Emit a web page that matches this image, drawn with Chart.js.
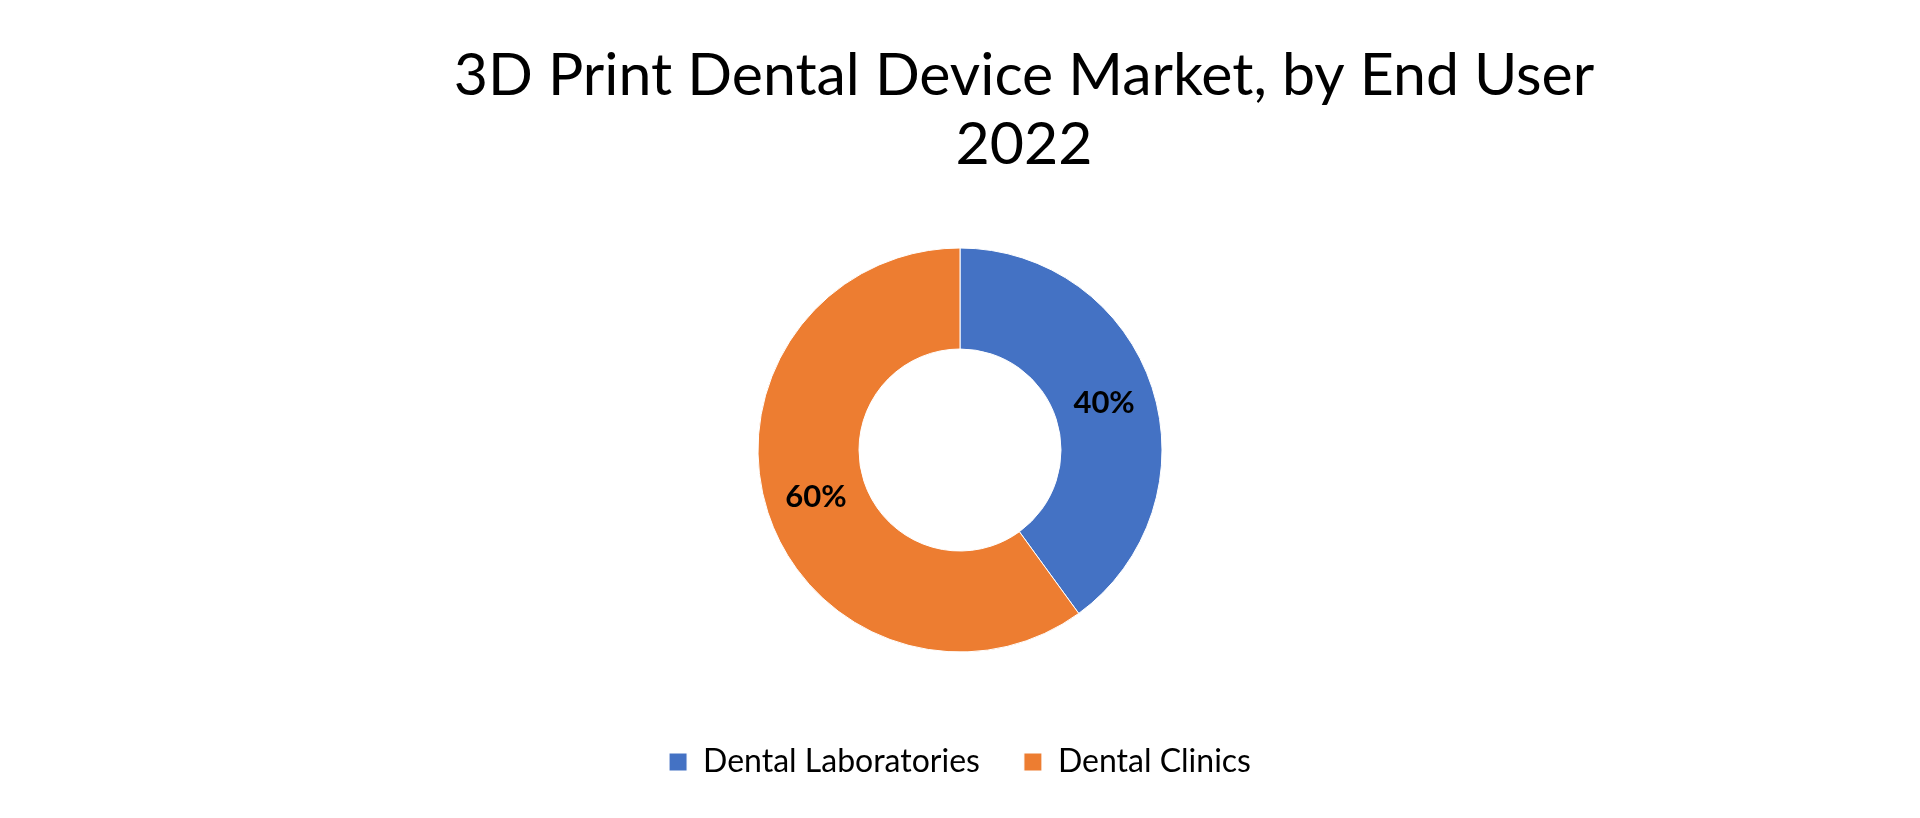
<!DOCTYPE html>
<html>
<head>
<meta charset="utf-8">
<script src="https://cdn.jsdelivr.net/npm/chart.js@4/dist/chart.umd.min.js"></script>
<style>
  html, body { margin: 0; padding: 0; background: #fff; }
  #wrap { width: 1920px; height: 818px; }
</style>
</head>
<body>
<div id="wrap"><canvas id="chartEndUser"></canvas></div>
<script>
// ----- DATA -----
const titleLines = ["3D Print Dental Device Market, by End User", "2022"];
const categories = ["Dental Laboratories", "Dental Clinics"];
const shares = [40, 60];
const colors = ["#4472C4", "#ED7D31"];

// ----- TITLE (sits a bit right of centre in the original) -----
const offsetTitle = {
    id: "offsetTitle",
    afterDraw(chart) {
        const ctx = chart.ctx;
        ctx.save();
        ctx.font = "59px Lato, 'Open Sans', sans-serif";
        ctx.fillStyle = "#000";
        ctx.textAlign = "center";
        ctx.textBaseline = "middle";
        const cx = chart.width / 2 + 64;
        titleLines.forEach((line, i) => ctx.fillText(line, cx, 76 + i * 69));
        ctx.restore();
    }
};

// ----- PERCENT LABELS -----
const sliceLabels = {
    id: "sliceLabels",
    afterDatasetsDraw(chart) {
        const ctx = chart.ctx;
        const meta = chart.getDatasetMeta(0);
        ctx.save();
        ctx.font = "bold 31px Lato, 'Open Sans', sans-serif";
        ctx.fillStyle = "#000";
        ctx.textAlign = "center";
        ctx.textBaseline = "middle";
        meta.data.forEach((arc, i) => {
            const p = arc.tooltipPosition();
            ctx.fillText(shares[i] + "%", p.x, p.y);
        });
        ctx.restore();
    }
};

// ----- CHART -----
new Chart(document.getElementById("chartEndUser"), {
    type: "doughnut",
    data: {
        labels: categories,
        datasets: [{
            data: shares,
            backgroundColor: colors,
            borderColor: "#fff",
            borderWidth: 1
        }]
    },
    options: {
        responsive: true,
        maintainAspectRatio: false,
        animation: false,
        radius: 202,
        cutout: "50%",
        layout: { padding: { top: 198, bottom: 30 } },
        plugins: {
            title: { display: false },
            legend: {
                position: "bottom",
                labels: {
                    color: "#000",
                    font: { family: "Lato, 'Open Sans', sans-serif", size: 32 },
                    boxWidth: 18,
                    boxHeight: 18,
                    padding: 44
                }
            },
            tooltip: { enabled: false }
        }
    },
    plugins: [sliceLabels, offsetTitle]
});
</script>
</body>
</html>
